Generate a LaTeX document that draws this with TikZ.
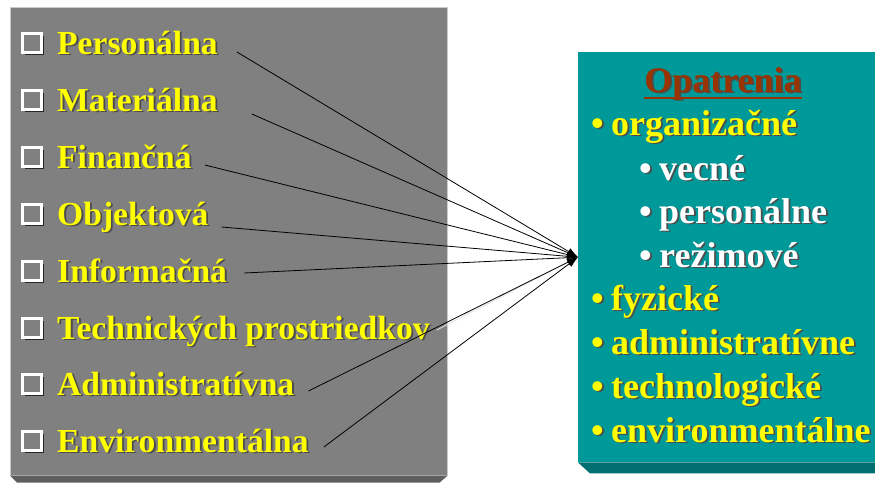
\documentclass[tikz,border=0pt]{standalone}
\usepackage{fontspec}
\setmainfont{Liberation Serif}
\usetikzlibrary{arrows.meta, positioning, shadows}

\definecolor{boxgray}{HTML}{808080}
\definecolor{boxgraydk}{HTML}{5E5E5E}
\definecolor{tealbg}{HTML}{009999}
\definecolor{tealdk}{HTML}{006F6F}
\definecolor{txtyellow}{HTML}{FFFF00}
\definecolor{txtbrown}{HTML}{993300}

% text with a dark drop shadow
\newcommand{\shtxt}[1]{\rlap{\kern1.8pt\raisebox{-1.8pt}{\textcolor{black!70}{#1}}}#1}
\newcommand{\bul}[1]{\makebox[20pt][l]{•}#1}

\begin{document}
\begin{tikzpicture}[x=1pt, y=-1pt, >=Latex, font=\bfseries]
    \tikzstyle{srcbox} = [rectangle, fill=boxgray, draw=gray!40, line width=0.6pt, inner sep=0pt, anchor=north west]
    \tikzstyle{dstbox} = [rectangle, fill=tealbg, inner sep=0pt, anchor=north west]
    \tikzstyle{chk} = [rectangle, minimum size=19pt, inner sep=0pt, draw=white, line width=2.4pt, fill=boxgray, drop shadow={shadow xshift=2.6pt, shadow yshift=-2.6pt, fill=black!85, opacity=1}]
    \tikzstyle{lbl} = [text=txtyellow, font=\fontsize{33.6}{34}\selectfont\bfseries, inner sep=0pt, anchor=base west]
    \tikzstyle{item} = [text=txtyellow, font=\fontsize{36}{36}\selectfont\bfseries, inner sep=0pt, anchor=base west]
    \tikzstyle{subitem} = [item, text=white]
    \tikzstyle{conn} = [line width=0.8pt, -{Latex[length=11pt, width=7.5pt]}]

    \useasboundingbox (0,0) rectangle (875,482);

    % Boxes
    \node [srcbox, minimum width=437pt, minimum height=468pt] (sources) at (10,7) {};
    \fill [boxgraydk] (sources.south west) -- (sources.south east) -- ++(-8,7) -- ([shift={(7,7)}]sources.south west) -- cycle;
    \node [dstbox, minimum width=300pt, minimum height=410pt] (opatrenia) at (578,52) {};
    \fill [tealdk] (opatrenia.south west) -- (opatrenia.south east) -- ++(0,11) -- ([shift={(12,11)}]opatrenia.south west) -- cycle;

    % Left column
    \node [chk] (c1) at (32,43) {};
    \node [chk] (c2) at (32,100) {};
    \node [chk] (c3) at (32,157) {};
    \node [chk] (c4) at (32,214) {};
    \node [chk] (c5) at (32,271) {};
    \node [chk] (c6) at (32,328) {};
    \node [chk] (c7) at (32,384) {};
    \node [chk] (c8) at (32,441) {};

    \node [lbl] (personalna) at (57,54) {\shtxt{Personálna}};
    \node [lbl] (materialna) at (57,111) {\shtxt{Materiálna}};
    \node [lbl] (financna) at (57,168) {\shtxt{Finančná}};
    \node [lbl] (objektova) at (57,225) {\shtxt{Objektová}};
    \node [lbl] (informacna) at (57,282) {\shtxt{Informačná}};
    \node [lbl] (technickych) at (57,339) {\shtxt{Technických prostriedkov}};
    \node [lbl] (administrativna) at (57,395) {\shtxt{Administratívna}};
    \node [lbl] (environmentalna) at (57,452) {\shtxt{Environmentálna}};

    % Right column
    \node [text=txtbrown, font=\fontsize{36}{36}\selectfont\bfseries, inner sep=0pt, anchor=base] (title) at (723,92) {\shtxt{Opatrenia}};
    \draw [txtbrown, line width=2.6pt] ([yshift=-6pt]title.base west) -- ([yshift=-6pt]title.base east);
    \node [item] (organizacne) at (591,135) {\shtxt{\bul{organizačné}}};
    \node [subitem] (vecne) at (639,180) {\shtxt{\bul{vecné}}};
    \node [subitem] (personalne) at (639,223) {\shtxt{\bul{personálne}}};
    \node [subitem] (rezimove) at (639,267) {\shtxt{\bul{režimové}}};
    \node [item] (fyzicke) at (591,310) {\shtxt{\bul{fyzické}}};
    \node [item] (administrativne) at (591,354) {\shtxt{\bul{administratívne}}};
    \node [item] (technologicke) at (591,398) {\shtxt{\bul{technologické}}};
    \node [item] (environmentalne) at (591,442) {\shtxt{\bul{environmentálne}}};

    % Connections
    \draw [conn] ([shift={(19,-2)}]personalna.base east) -- (opatrenia.west);
    \draw [conn] ([shift={(34,3)}]materialna.base east) -- (opatrenia.west);
    \draw [conn] ([shift={(13,-3)}]financna.base east) -- (opatrenia.west);
    \draw [conn] ([shift={(13,2)}]objektova.base east) -- (opatrenia.west);
    \draw [conn] ([shift={(17,-9)}]informacna.base east) -- (opatrenia.west);
    \draw [conn, draw=black!12, fill=black!12] ([shift={(7,-9)}]technickych.base east) -- (opatrenia.west);
    \draw [conn] ([shift={(14,-4)}]administrativna.base east) -- (opatrenia.west);
    \draw [conn] ([shift={(15,-5)}]environmentalna.base east) -- (opatrenia.west);
\end{tikzpicture}
\end{document}
